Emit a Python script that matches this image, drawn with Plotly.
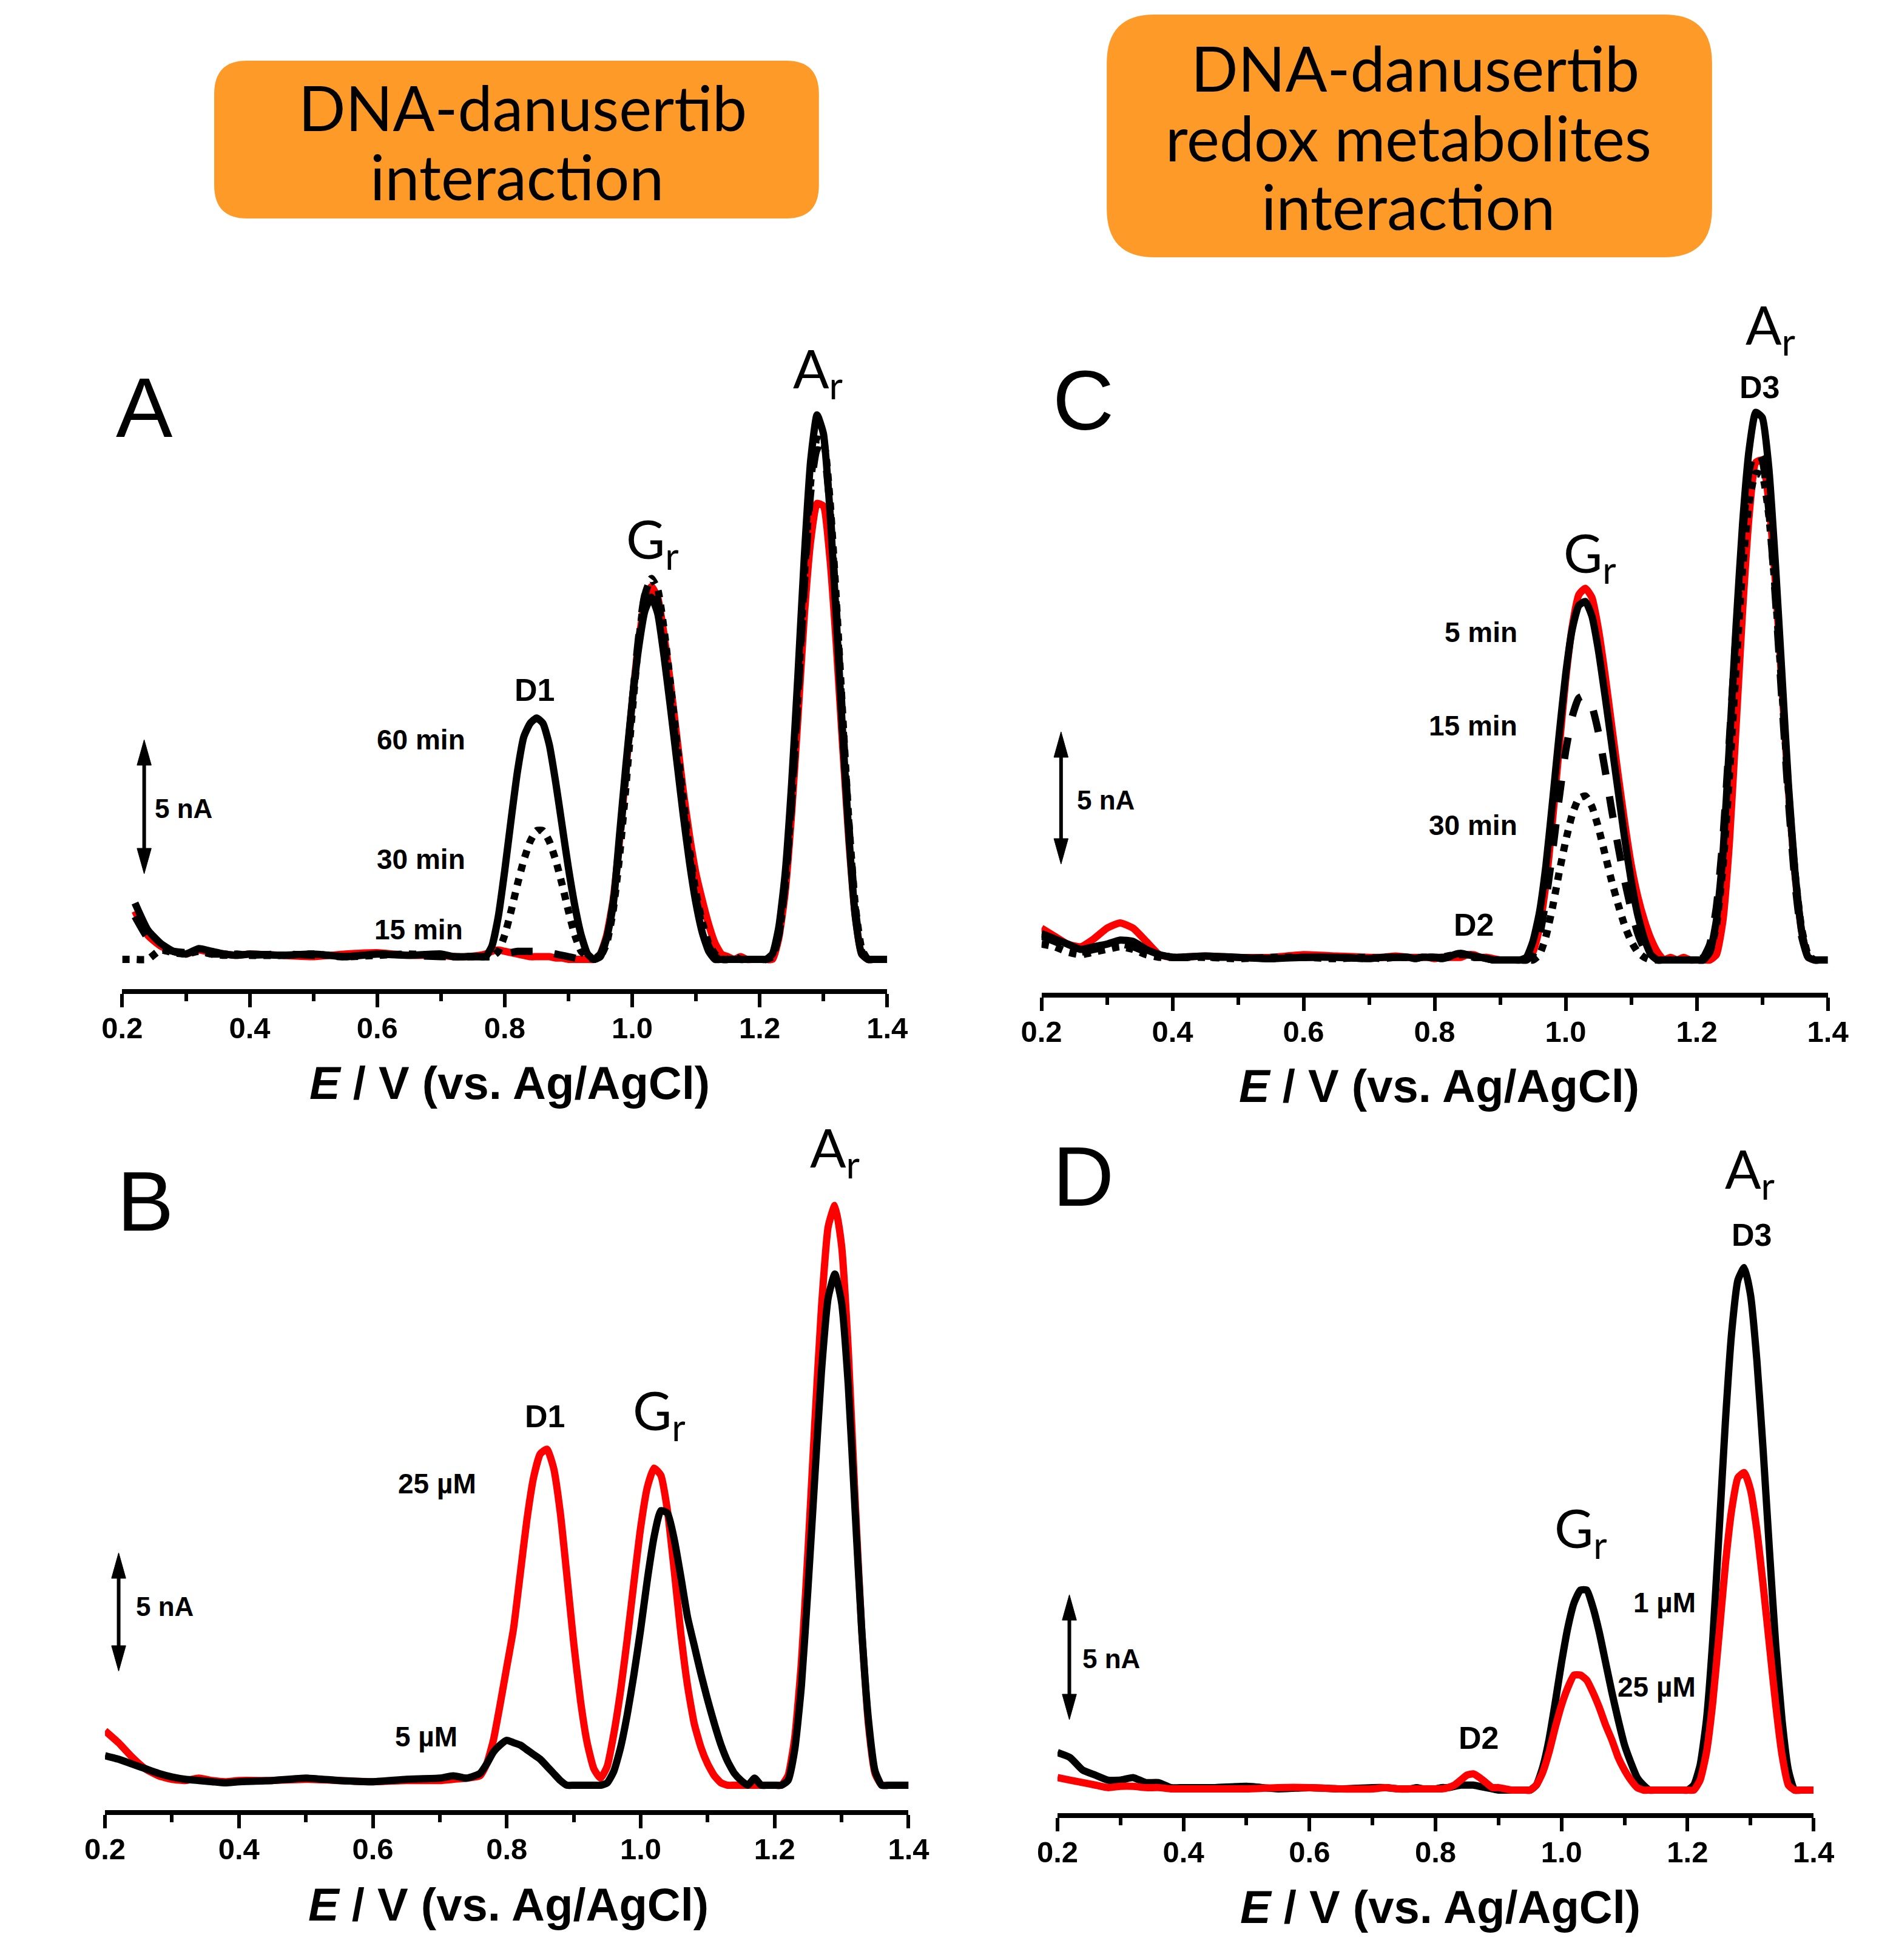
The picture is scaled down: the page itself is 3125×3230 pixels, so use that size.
import plotly.graph_objects as go

# ---------------- data (currents in nA, baseline-corrected) ----------------
E = [0.20, 0.22, 0.24, 0.26, 0.28, 0.30, 0.32, 0.34, 0.36, 0.38, 0.40,
     0.45, 0.50, 0.55, 0.60, 0.65, 0.70, 0.72, 0.74,
     0.76, 0.77, 0.78, 0.79, 0.80, 0.81, 0.82, 0.83, 0.84, 0.85,
     0.86, 0.87, 0.88, 0.89, 0.90, 0.91, 0.92, 0.93, 0.94, 0.95,
     0.96, 0.97, 0.98, 0.99, 1.00, 1.01, 1.02, 1.03, 1.04, 1.05,
     1.06, 1.07, 1.08, 1.09, 1.10, 1.11, 1.12, 1.13, 1.14, 1.15,
     1.16, 1.17, 1.18, 1.19, 1.20, 1.21, 1.22, 1.23, 1.24, 1.25,
     1.26, 1.27, 1.28, 1.29, 1.30, 1.31, 1.32, 1.33, 1.34, 1.35,
     1.36, 1.37, 1.38, 1.39, 1.40]

# Panel A : DNA-danusertib, incubation time
A_control = [None, 1.8, 0.9, 0.5, 0.3, 0.2, 0.35, 0.25, 0.2, 0.15, 0.2,
             0.15, 0.1, 0.2, 0.25, 0.15, 0.15, 0.1, 0.1,
             0.15, 0.2, 0.3, 0.35, 0.3, 0.25, 0.2, 0.15, 0.1, 0.1,
             0.1, 0.1, 0.05, 0.05, 0.0, 0.0, 0.0, 0.0, 0.0, 0.2,
             0.9, 2.2, 4.4, 7.0, 9.6, 11.8, 13.3, 13.9, 13.5, 12.1,
             10.3, 8.3, 6.3, 4.6, 3.2, 2.2, 1.3, 0.6, 0.2, 0.1,
             0.0, 0.1, 0.0, 0.0, 0.0, 0.0, 0.0, 0.8, 2.5, 5.4,
             9.0, 12.8, 15.6, 17.0, 16.9, 15.0, 11.8, 8.0, 4.4, 1.6,
             0.2, 0.0, 0.0, 0.0, 0.0]
A_15min = [None, 1.6, 0.8, 0.45, 0.3, 0.25, 0.3, 0.2, 0.2, 0.15, 0.15,
           0.2, 0.15, 0.1, 0.2, 0.15, 0.1, 0.1, 0.1,
           0.1, 0.1, 0.1, 0.15, 0.2, 0.25, 0.3, 0.3, 0.3, 0.3,
           0.3, 0.25, 0.2, 0.15, 0.1, 0.05, 0.0, 0.0, 0.0, 0.2,
           0.8, 2.1, 4.3, 6.9, 9.6, 12.0, 13.6, 14.0, 13.4, 11.8,
           9.8, 7.7, 5.6, 3.8, 2.3, 1.2, 0.5, 0.1, 0.0, 0.0,
           0.0, 0.0, 0.0, 0.0, 0.0, 0.0, 0.1, 0.9, 2.8, 5.8,
           9.7, 13.9, 17.4, 19.0, 18.9, 16.9, 13.2, 9.0, 5.0, 1.9,
           0.3, 0.0, 0.0, 0.0, 0.0]
A_30min = [0.0, 0.0, 0.0, 0.35, 0.25, 0.2, 0.3, 0.2, 0.15, 0.2, 0.15,
           0.15, 0.2, 0.1, 0.15, 0.2, 0.15, 0.1, 0.1,
           0.1, 0.1, 0.1, 0.3, 0.9, 1.8, 2.8, 3.7, 4.4, 4.8,
           4.8, 4.4, 3.7, 2.8, 1.8, 0.9, 0.3, 0.1, 0.0, 0.1,
           0.6, 1.8, 3.8, 6.4, 9.2, 11.8, 13.6, 14.2, 13.8, 12.3,
           10.3, 8.1, 6.0, 4.1, 2.5, 1.4, 0.6, 0.2, 0.0, 0.0,
           0.1, 0.0, 0.0, 0.0, 0.0, 0.0, 0.1, 0.9, 2.8, 5.9,
           9.9, 14.2, 17.8, 19.4, 19.3, 17.2, 13.5, 9.2, 5.1, 2.0,
           0.4, 0.0, 0.0, 0.0, 0.0]
A_60min = [None, 2.1, 1.1, 0.6, 0.3, 0.2, 0.4, 0.3, 0.2, 0.15, 0.2,
           0.15, 0.2, 0.1, 0.2, 0.15, 0.2, 0.1, 0.1,
           0.1, 0.1, 0.5, 1.6, 3.3, 5.2, 7.0, 8.3, 8.8, 9.0,
           8.8, 8.0, 6.6, 5.0, 3.4, 2.0, 0.9, 0.2, 0.0, 0.1,
           0.8, 2.0, 4.6, 7.2, 9.6, 11.6, 13.0, 13.5, 12.9, 11.3,
           9.4, 7.4, 5.4, 3.6, 2.1, 1.0, 0.3, 0.0, 0.0, 0.0,
           0.0, 0.0, 0.0, 0.0, 0.0, 0.0, 0.2, 1.2, 3.2, 6.5,
           10.6, 15.0, 18.6, 20.3, 19.6, 16.8, 12.8, 8.5, 4.6, 1.6,
           0.2, 0.0, 0.0, 0.0, 0.0]

# Panel B : DNA-danusertib, concentration
B_25uM = [2.3, 1.8, 1.2, 0.7, 0.4, 0.25, 0.2, 0.3, 0.2, 0.15, 0.2,
          0.2, 0.25, 0.2, 0.15, 0.2, 0.2, 0.25, 0.3,
          0.4, 0.9, 1.9, 3.4, 5.0, 6.6, 8.9, 11.2, 13.0, 14.0,
          14.2, 13.4, 11.5, 8.8, 6.0, 3.6, 1.8, 0.7, 0.3, 0.8,
          2.2, 4.0, 6.2, 8.6, 10.9, 12.6, 13.4, 13.1, 11.6, 9.1,
          6.4, 4.2, 2.6, 1.6, 0.9, 0.4, 0.1, 0.0, 0.0, 0.0,
          0.0, 0.0, 0.0, 0.0, 0.0, 0.0, 0.4, 2.0, 5.2, 10.0,
          15.3, 20.2, 23.6, 24.5, 22.8, 18.4, 12.2, 6.6, 2.6, 0.5,
          0.0, 0.0, 0.0, 0.0, 0.0]
B_5uM = [1.25, 1.1, 0.9, 0.7, 0.5, 0.35, 0.25, 0.2, 0.15, 0.1, 0.15,
         0.2, 0.3, 0.2, 0.15, 0.25, 0.3, 0.4, 0.3,
         0.5, 0.9, 1.4, 1.7, 1.9, 1.8, 1.7, 1.5, 1.3, 1.1,
         0.8, 0.5, 0.2, 0.0, 0.0, 0.0, 0.0, 0.0, 0.0, 0.1,
         0.6, 1.6, 3.0, 4.7, 6.6, 8.7, 10.5, 11.6, 11.5, 10.4,
         8.8, 7.1, 5.9, 4.7, 3.6, 2.6, 1.7, 1.0, 0.5, 0.2,
         0.0, 0.3, 0.0, 0.0, 0.0, 0.0, 0.2, 1.5, 4.2, 8.4,
         13.0, 17.5, 20.6, 21.6, 20.4, 16.9, 11.7, 6.6, 2.8, 0.6,
         0.0, 0.0, 0.0, 0.0, 0.0]

# Panel C : DNA-danusertib redox metabolites, incubation time
C_control = [1.2, 0.9, 0.6, 0.5, 0.8, 1.2, 1.4, 1.2, 0.7, 0.2, 0.1,
             0.15, 0.1, 0.1, 0.2, 0.15, 0.1, 0.1, 0.15,
             0.1, 0.1, 0.1, 0.1, 0.05, 0.1, 0.1, 0.1, 0.1, 0.2,
             0.2, 0.1, 0.1, 0.05, 0.0, 0.0, 0.0, 0.0, 0.0, 0.3,
             1.2, 2.9, 5.3, 8.0, 10.6, 12.6, 13.8, 14.05, 13.7, 12.5,
             10.8, 8.9, 7.0, 5.2, 3.6, 2.4, 1.5, 0.8, 0.3, 0.0,
             0.1, 0.0, 0.1, 0.0, 0.0, 0.0, 0.0, 0.2, 1.5, 4.5,
             8.8, 13.2, 16.8, 18.8, 18.9, 17.3, 14.3, 10.4, 6.4, 3.2,
             1.1, 0.1, 0.0, 0.0, 0.0]
C_30min = [0.6, 0.5, 0.3, 0.2, 0.3, 0.4, 0.5, 0.4, 0.2, 0.1, 0.1,
           0.1, 0.05, 0.1, 0.1, 0.05, 0.1, 0.05, 0.1,
           0.1, 0.05, 0.1, 0.1, 0.1, 0.1, 0.15, 0.2, 0.2, 0.2,
           0.1, 0.1, 0.05, 0.0, 0.0, 0.0, 0.0, 0.0, 0.0, 0.0,
           0.2, 0.9, 2.0, 3.3, 4.5, 5.5, 6.1, 6.2, 5.8, 5.0,
           4.0, 3.0, 2.1, 1.3, 0.7, 0.3, 0.1, 0.0, 0.0, 0.0,
           0.0, 0.0, 0.0, 0.0, 0.0, 0.0, 0.3, 1.3, 3.5, 7.0,
           11.0, 14.8, 17.3, 18.4, 18.3, 16.8, 13.9, 10.2, 6.4, 3.3,
           1.2, 0.2, 0.0, 0.0, 0.0]
C_15min = [0.9, 0.7, 0.5, 0.3, 0.4, 0.5, 0.6, 0.5, 0.3, 0.2, 0.1,
           0.1, 0.1, 0.05, 0.1, 0.1, 0.05, 0.1, 0.1,
           0.1, 0.1, 0.05, 0.1, 0.1, 0.1, 0.1, 0.15, 0.2, 0.15,
           0.1, 0.1, 0.05, 0.0, 0.0, 0.0, 0.0, 0.0, 0.0, 0.2,
           0.9, 2.3, 4.1, 6.1, 7.9, 9.2, 9.9, 10.0, 9.6, 8.6,
           7.2, 5.7, 4.3, 3.0, 1.9, 1.0, 0.4, 0.1, 0.0, 0.0,
           0.0, 0.0, 0.0, 0.0, 0.0, 0.1, 0.6, 2.0, 4.6, 8.4,
           12.4, 16.0, 18.5, 19.3, 18.9, 17.0, 13.7, 9.8, 6.0, 2.9,
           0.9, 0.1, 0.0, 0.0, 0.0]
C_5min = [1.0, 0.8, 0.6, 0.4, 0.5, 0.6, 0.75, 0.7, 0.4, 0.2, 0.1,
          0.15, 0.1, 0.05, 0.1, 0.1, 0.05, 0.1, 0.1,
          0.1, 0.05, 0.1, 0.1, 0.1, 0.05, 0.1, 0.2, 0.25, 0.2,
          0.15, 0.1, 0.05, 0.0, 0.0, 0.0, 0.0, 0.0, 0.1, 0.7,
          1.8, 3.6, 6.0, 8.5, 10.8, 12.5, 13.4, 13.55, 13.0, 11.7,
          10.0, 8.2, 6.4, 4.6, 3.0, 1.7, 0.8, 0.2, 0.0, 0.0,
          0.0, 0.0, 0.0, 0.0, 0.0, 0.0, 0.3, 1.5, 4.0, 8.2,
          12.6, 16.5, 19.3, 20.7, 20.5, 18.6, 15.0, 10.8, 6.6, 3.3,
          1.1, 0.1, 0.0, 0.0, 0.0]

# Panel D : DNA-danusertib redox metabolites, concentration
D_1uM = [1.5, 1.3, 0.8, 0.6, 0.4, 0.4, 0.5, 0.3, 0.3, 0.1, 0.1,
         0.1, 0.15, 0.05, 0.1, 0.05, 0.1, 0.1, 0.05,
         0.05, 0.1, 0.05, 0.05, 0.05, 0.1, 0.1, 0.15, 0.2, 0.2,
         0.2, 0.15, 0.1, 0.05, 0.0, 0.0, 0.0, 0.0, 0.0, 0.0,
         0.2, 0.9, 2.0, 3.5, 5.1, 6.5, 7.5, 8.0, 8.0, 7.3,
         6.3, 5.1, 3.9, 2.8, 1.8, 1.1, 0.5, 0.2, 0.0, 0.0,
         0.0, 0.0, 0.0, 0.0, 0.0, 0.2, 1.0, 2.8, 6.0, 10.3,
         14.7, 18.3, 20.4, 20.9, 19.8, 17.2, 13.6, 9.6, 5.8, 2.8,
         0.8, 0.0, 0.0, 0.0, 0.0]
D_25uM = [0.5, 0.4, 0.3, 0.2, 0.1, 0.15, 0.15, 0.1, 0.1, 0.05, 0.05,
          0.05, 0.05, 0.1, 0.1, 0.05, 0.05, 0.1, 0.05,
          0.05, 0.05, 0.05, 0.05, 0.05, 0.05, 0.1, 0.2, 0.4, 0.6,
          0.65, 0.5, 0.3, 0.1, 0.1, 0.05, 0.0, 0.0, 0.0, 0.0,
          0.2, 0.7, 1.5, 2.5, 3.4, 4.1, 4.6, 4.6, 4.4, 3.9,
          3.3, 2.6, 2.0, 1.3, 0.8, 0.4, 0.1, 0.0, 0.0, 0.0,
          0.0, 0.0, 0.0, 0.0, 0.0, 0.0, 0.4, 1.5, 3.5, 6.2,
          9.0, 11.2, 12.5, 12.7, 12.0, 10.4, 8.2, 5.8, 3.4, 1.4,
          0.2, 0.0, 0.0, 0.0, 0.0]

TICK_VALS = [0.2, 0.4, 0.6, 0.8, 1.0, 1.2, 1.4]
TICK_TEXT = ["0.2", "0.4", "0.6", "0.8", "1.0", "1.2", "1.4"]
MINOR_VALS = [0.3, 0.5, 0.7, 0.9, 1.1, 1.3]

# ---------------- layout helpers (screenshot pixel geometry) ----------------
# the page body has an 8 px margin, so the figure is drawn 16 px smaller
OFF = 8
PW, PH = 3125 - 2 * OFF, 3230 - 2 * OFF


def px(x):
    return (x - OFF) / PW


def py(y):
    return 1 - (y - OFF) / PH


RED = "#FF0000"
BLACK = "#000000"
LW = 12
BOLD = "Liberation Sans, Arial, sans-serif"
HAND = "Comic Sans MS, Lato, sans-serif"

fig = go.Figure()


def add(xa, ya, yvals, color, dash="solid"):
    fig.add_trace(go.Scatter(x=E, y=yvals, xaxis=xa, yaxis=ya, mode="lines",
                             line=dict(color=color, width=LW, dash=dash,
                                       shape="spline", smoothing=0.5),
                             showlegend=False, hoverinfo="skip"))


# panel A
add("x", "y", A_control, RED)
add("x", "y", A_15min, BLACK, "dash")
add("x", "y", A_30min, BLACK, "dot")
add("x", "y", A_60min, BLACK)
# panel B
add("x2", "y2", B_25uM, RED)
add("x2", "y2", B_5uM, BLACK)
# panel C
add("x3", "y3", C_control, RED)
add("x3", "y3", C_30min, BLACK, "dot")
add("x3", "y3", C_15min, BLACK, "dash")
add("x3", "y3", C_5min, BLACK)
# panel D
add("x4", "y4", D_1uM, BLACK)
add("x4", "y4", D_25uM, RED)

# panel geometry: (x0px, x1px, axis_px, top_px, baseline_px, px_per_nA)
panels = {
    "": (171, 1460, 1630, 600, 1581, 44.2),
    "2": (142, 1496, 2983, 1880, 2942, 39.0),
    "3": (1720, 3045, 1636, 540, 1582, 43.6),
    "4": (1747, 3021, 2988, 1880, 2950, 41.2),
}

layout_axes = {}
for k, (x0, x1, ax_y, top, base, s) in panels.items():
    layout_axes["xaxis" + k] = dict(
        domain=[px(x0), px(x1)], range=[0.2, 1.4], anchor="y" + k,
        showline=True, linecolor="black", linewidth=8,
        ticks="outside", ticklen=22, tickwidth=6, tickcolor="black",
        tickmode="array", tickvals=TICK_VALS, ticktext=TICK_TEXT,
        ticklabelstandoff=-8,
        tickfont=dict(family=BOLD, size=49, color="black", weight="bold"),
        minor=dict(tickmode="array", tickvals=MINOR_VALS, ticks="outside",
                   ticklen=12, tickwidth=6, tickcolor="black", showgrid=False),
        showgrid=False, zeroline=False, fixedrange=True)
    layout_axes["yaxis" + k] = dict(
        domain=[py(ax_y), py(top)],
        range=[-(ax_y - base) / s, (base - top) / s],
        anchor="x" + k, visible=False, fixedrange=True)

annotations = []
shapes = []


def text(x, y, t, size, family=BOLD, xanchor="center", bold=True):
    annotations.append(dict(
        x=px(x), y=py(y), xref="paper", yref="paper", showarrow=False,
        text=("<b>%s</b>" % t) if bold else t, xanchor=xanchor, yanchor="middle",
        font=dict(family=family, size=size, color="black")))


def scale_arrow(x, y_top, y_bot, hw=12, hl=42):
    # double-headed 5 nA scale bar drawn as shapes
    shapes.append(dict(type="line", xref="paper", yref="paper",
                       x0=px(x), x1=px(x), y0=py(y_top + hl - 4), y1=py(y_bot - hl + 4),
                       line=dict(color="black", width=6)))
    for tip, base in ((y_top, y_top + hl), (y_bot, y_bot - hl)):
        path = "M %.5f,%.5f L %.5f,%.5f L %.5f,%.5f Z" % (
            px(x - hw), py(base), px(x), py(tip), px(x + hw), py(base))
        shapes.append(dict(type="path", xref="paper", yref="paper", path=path,
                           fillcolor="black", line=dict(color="black", width=1)))


TITLE = "<i>E</i> / V (vs. Ag/AgCl)"

# Panel A
text(208, 672, "A", 140, bold=False)
text(1343, 612, "A<sub>r</sub>", 88, HAND, bold=False)
text(1065, 893, "G<sub>r</sub>", 88, HAND, bold=False)
text(866, 1137, "D1", 52)
text(751, 1219, "60 min", 46, xanchor="right")
text(751, 1416, "30 min", 46, xanchor="right")
text(747, 1532, "15 min", 46, xanchor="right")
text(224, 1333, "5 nA", 44, xanchor="left")
scale_arrow(208, 1219, 1440)
text(824, 1784, TITLE, 76)

# Panel B
text(210, 1980, "B", 140, bold=False)
text(1372, 1896, "A<sub>r</sub>", 88, HAND, bold=False)
text(1076, 2329, "G<sub>r</sub>", 88, HAND, bold=False)
text(883, 2334, "D1", 52)
text(770, 2445, "25 µM", 46, xanchor="right")
text(738, 2862, "5 µM", 46, xanchor="right")
text(192, 2647, "5 nA", 44, xanchor="left")
scale_arrow(165, 2559, 2754)
text(822, 3138, TITLE, 76)

# Panel C
text(1790, 660, "C", 140, bold=False)
text(2948, 540, "A<sub>r</sub>", 88, HAND, bold=False)
text(2930, 638, "D3", 52)
text(2644, 916, "G<sub>r</sub>", 88, HAND, bold=False)
text(2524, 1042, "5 min", 46, xanchor="right")
text(2524, 1196, "15 min", 46, xanchor="right")
text(2524, 1360, "30 min", 46, xanchor="right")
text(2448, 1524, "D2", 52)
text(1778, 1318, "5 nA", 44, xanchor="left")
scale_arrow(1753, 1206, 1424)
text(2390, 1789, TITLE, 76)

# Panel D
text(1790, 1938, "D", 140, bold=False)
text(2914, 1931, "A<sub>r</sub>", 88, HAND, bold=False)
text(2917, 2035, "D3", 52)
text(2629, 2523, "G<sub>r</sub>", 88, HAND, bold=False)
text(2825, 2641, "1 µM", 46, xanchor="right")
text(2825, 2780, "25 µM", 46, xanchor="right")
text(2457, 2864, "D2", 52)
text(1787, 2733, "5 nA", 44, xanchor="left")
scale_arrow(1767, 2628, 2834)
text(2392, 3142, TITLE, 76)


# Orange header boxes
def rounded_path(x0, y0, x1, y1, r):
    pts = [("M", [(x0 + r, y0)]), ("L", [(x1 - r, y0)]), ("Q", [(x1, y0), (x1, y0 + r)]),
           ("L", [(x1, y1 - r)]), ("Q", [(x1, y1), (x1 - r, y1)]),
           ("L", [(x0 + r, y1)]), ("Q", [(x0, y1), (x0, y1 - r)]),
           ("L", [(x0, y0 + r)]), ("Q", [(x0, y0), (x0 + r, y0)])]
    s = ""
    for cmd, p in pts:
        s += cmd + " " + " ".join("%.5f,%.5f" % (px(a), py(b)) for a, b in p) + " "
    return s + "Z"


ORANGE = "#FD9A28"
shapes += [
    dict(type="path", xref="paper", yref="paper", path=rounded_path(326, 100, 1345, 360, 55),
         fillcolor=ORANGE, line=dict(width=0), layer="below"),
    dict(type="path", xref="paper", yref="paper", path=rounded_path(1830, 24, 2850, 424, 80),
         fillcolor=ORANGE, line=dict(width=0), layer="below"),
]
text(846, 177, "DNA-danusertib", 102, HAND, bold=False)
text(836, 290, "interaction", 102, HAND, bold=False)
text(2350, 112, "DNA-danusertib", 102, HAND, bold=False)
text(2338, 226, "redox metabolites", 102, HAND, bold=False)
text(2338, 340, "interaction", 102, HAND, bold=False)

fig.update_layout(
    width=PW, height=PH, margin=dict(l=0, r=0, t=0, b=0),
    paper_bgcolor="white", plot_bgcolor="white",
    showlegend=False, annotations=annotations, shapes=shapes,
    **layout_axes)

fig.write_html("out.html")
